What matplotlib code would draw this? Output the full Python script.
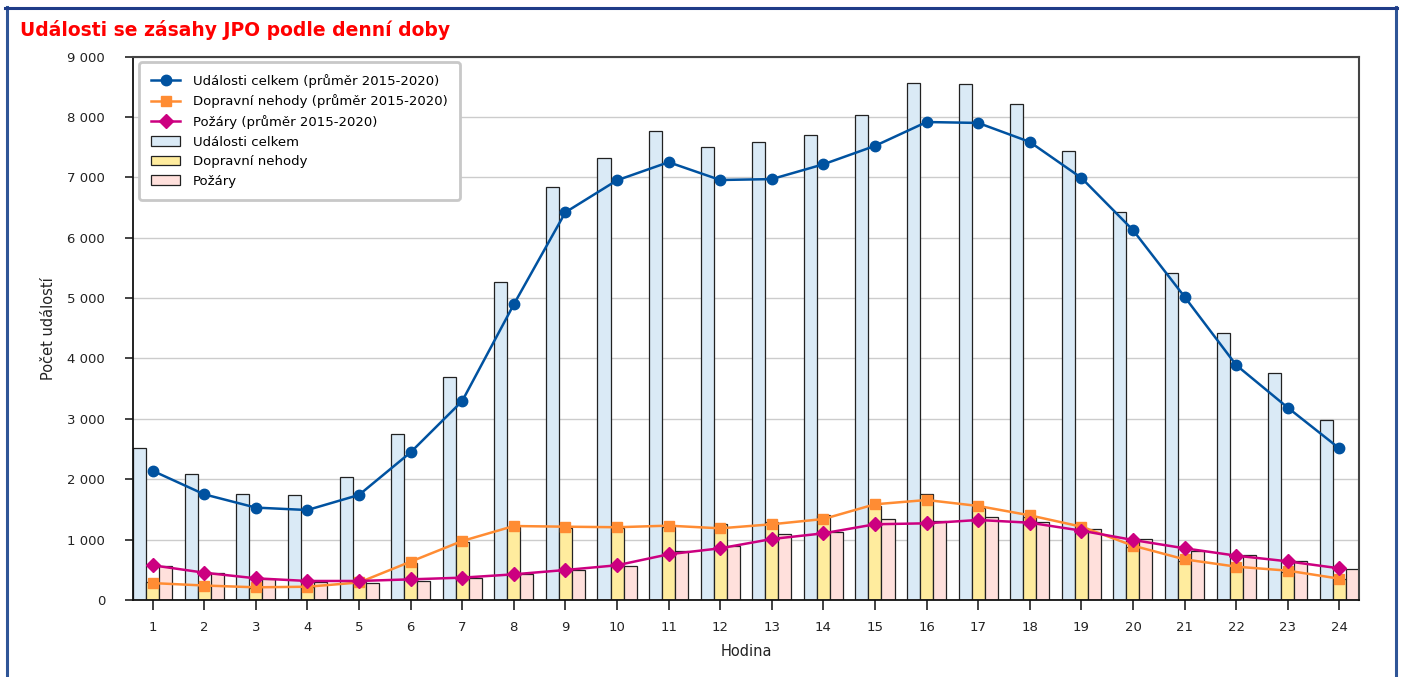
import numpy as np
import matplotlib
matplotlib.use("Agg")
import matplotlib.pyplot as plt
from matplotlib.lines import Line2D
from matplotlib.ticker import FuncFormatter, MultipleLocator

# hodiny dne
hours = np.arange(1, 25)

# sloupce - udalosti podle hodiny
udalosti_celkem = [2510, 2080, 1760, 1745, 2030, 2750, 3690, 5265, 6840, 7325, 7765, 7500,
                   7585, 7700, 8030, 8560, 8545, 8210, 7435, 6425, 5415, 4420, 3765, 2975]
dopravni_nehody = [290, 240, 200, 210, 290, 607, 965, 1214, 1197, 1187, 1214, 1254,
                   1297, 1408, 1550, 1750, 1530, 1370, 1190, 870, 650, 540, 470, 340]
pozary = [568, 447, 343, 303, 277, 315, 370, 425, 497, 568, 811, 899,
          1093, 1121, 1341, 1313, 1369, 1297, 1176, 1010, 817, 745, 646, 508]

# prumery 2015-2020
prumer_celkem = [2140, 1750, 1530, 1490, 1740, 2445, 3295, 4895, 6420, 6950, 7250, 6955,
                 6970, 7215, 7520, 7915, 7900, 7585, 6990, 6125, 5020, 3890, 3185, 2510]
prumer_dopravni = [280, 240, 210, 220, 290, 635, 977, 1225, 1214, 1205, 1231, 1187,
                   1254, 1341, 1585, 1656, 1557, 1402, 1214, 900, 673, 552, 486, 353]
prumer_pozary = [575, 452, 359, 315, 315, 342, 370, 425, 497, 575, 757, 856,
                 1010, 1104, 1254, 1270, 1325, 1280, 1148, 994, 856, 734, 640, 524]

plt.rcParams['font.family'] = ['DejaVu Sans']

fig = plt.figure(figsize=(14.04, 6.77), dpi=100)
ax = fig.add_axes([133 / 1404, 1 - 600 / 677, 1226 / 1404, 543.5 / 677])

w = 0.252
edge = '#222222'
ax.bar(hours - w, udalosti_celkem, width=w, color='#DAEAF6', edgecolor=edge,
       linewidth=0.9, label='Události celkem', zorder=2)
ax.bar(hours, dopravni_nehody, width=w, color='#FFEC9E', edgecolor=edge,
       linewidth=0.9, label='Dopravní nehody', zorder=2)
ax.bar(hours + w, pozary, width=w, color='#FFE0DC', edgecolor=edge,
       linewidth=0.9, label='Požáry', zorder=2)

ax.plot(hours, prumer_celkem, color='#0052A0', lw=1.8, marker='o', ms=7.5,
        label='Události celkem (průměr 2015-2020)', zorder=4)
ax.plot(hours, prumer_dopravni, color='#FF8C33', lw=1.8, marker='s', ms=7,
        label='Dopravní nehody (průměr 2015-2020)', zorder=4)
ax.plot(hours, prumer_pozary, color='#CC0080', lw=1.8, marker='D', ms=7,
        label='Požáry (průměr 2015-2020)', zorder=5)

ax.set_xlim(0.62, 24.38)
ax.set_ylim(0, 9000)
ax.set_xticks(hours)
ax.yaxis.set_major_locator(MultipleLocator(1000))
ax.yaxis.set_major_formatter(FuncFormatter(lambda v, p: f'{int(v):,}'.replace(',', ' ')))
ax.grid(axis='y', color='#CCCCCC', lw=1.0, zorder=0)
ax.set_axisbelow(True)

for s in ['left', 'bottom']:
    ax.spines[s].set_color('#111111')
    ax.spines[s].set_linewidth(1.3)
for s in ['top', 'right']:
    ax.spines[s].set_color('#444444')
    ax.spines[s].set_linewidth(1.5)

ax.tick_params(axis='y', length=6, width=1.2, pad=14, labelsize=9.5, colors='#222222')
ax.tick_params(axis='x', length=7, width=1.2, pad=8, labelsize=9.5, colors='#222222')

ax.set_ylabel('Počet událostí', fontsize=10.5, color='#222222', labelpad=8)
ax.set_xlabel('Hodina', fontsize=10.5, color='#222222', labelpad=7)

leg = ax.legend(loc='upper left', bbox_to_anchor=(0.005, 0.99), borderaxespad=0,
                fontsize=9.5, labelspacing=0.5, handlelength=2.2, handletextpad=1.0,
                borderpad=0.9, fancybox=True, framealpha=1)
leg.get_frame().set_edgecolor('#C8C8C8')
leg.get_frame().set_linewidth(2)

fig.text(20 / 1404, 1 - 30 / 677, 'Události se zásahy JPO podle denní doby',
         color='#FF0000', fontsize=13.5, fontweight='bold', va='center', ha='left')

# modry ramecek kolem grafu
fc = '#2F5597'
fig.add_artist(Line2D([6.5 / 1404, 6.5 / 1404], [0, 1 - 7 / 677], color=fc, lw=2.2,
                      transform=fig.transFigure))
fig.add_artist(Line2D([1395.5 / 1404, 1395.5 / 1404], [0, 1 - 7 / 677], color=fc, lw=2.2,
                      transform=fig.transFigure))
fig.add_artist(Line2D([5 / 1404, 1397 / 1404], [1 - 7.5 / 677, 1 - 7.5 / 677], color='#1F3C88',
                      lw=2.2, transform=fig.transFigure))

fig.savefig('out.png', dpi=100)
